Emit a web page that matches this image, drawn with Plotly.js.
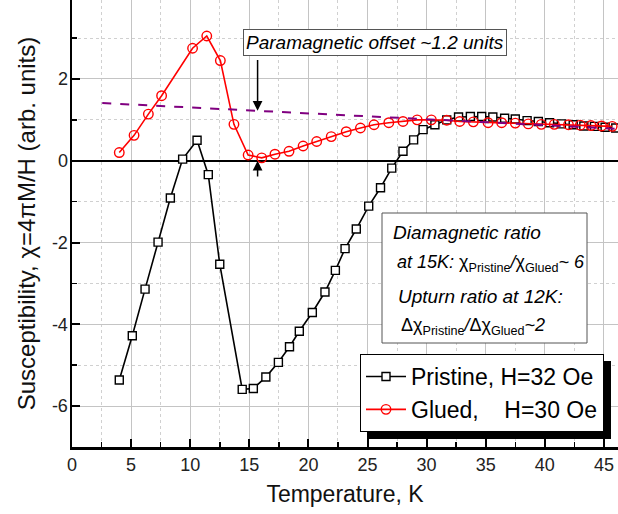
<!DOCTYPE html>
<html>
<head>
<meta charset="utf-8">
<script src="https://cdn.plot.ly/plotly-3.0.1.min.js"></script>
<style>
html,body{margin:0;padding:0;background:#fff;}
#chart{width:618px;height:514px;}
</style>
</head>
<body>
<div id="chart"></div>
<script>
// ---- data ----
const pristineT = [4.0, 5.1, 6.18, 7.28, 8.32, 9.36, 10.58, 11.53, 12.5, 14.4, 15.34, 16.4, 17.46, 18.4, 19.23, 20.33, 21.4, 22.28, 23.1, 24.05, 25.1, 26.1, 27.05, 28.0, 28.9, 29.7, 30.7, 31.7, 32.7, 33.7, 34.66, 35.6, 36.6, 37.5, 38.5, 39.45, 40.4, 41.4, 42.4, 43.3, 44.2, 45.1, 46.0];
const pristineChi = [-5.36, -4.28, -3.14, -1.99, -0.91, 0.04, 0.50, -0.34, -2.53, -5.59, -5.57, -5.29, -4.93, -4.55, -4.17, -3.71, -3.21, -2.68, -2.15, -1.67, -1.11, -0.66, -0.18, 0.23, 0.51, 0.76, 0.88, 1.00, 1.07, 1.08, 1.08, 1.07, 1.04, 1.02, 0.98, 0.96, 0.93, 0.90, 0.88, 0.85, 0.84, 0.82, 0.80];
const gluedT = [4.0, 5.25, 6.46, 7.58, 10.2, 11.4, 12.55, 13.7, 14.9, 16.05, 17.17, 18.36, 19.55, 20.7, 21.93, 23.2, 24.4, 25.55, 26.8, 28.0, 29.2, 30.4, 31.7, 32.8, 33.95, 35.2, 36.35, 37.5, 38.6, 39.7, 40.8, 42.0, 43.0, 43.9, 44.8, 45.7];
const gluedChi = [0.20, 0.62, 1.14, 1.59, 2.75, 3.05, 2.45, 0.89, 0.14, 0.07, 0.16, 0.23, 0.36, 0.47, 0.59, 0.71, 0.80, 0.88, 0.93, 0.96, 1.00, 1.00, 0.99, 0.96, 0.95, 0.93, 0.93, 0.92, 0.90, 0.89, 0.89, 0.88, 0.87, 0.86, 0.85, 0.84];
const offsetT = [2.56, 46.2];
const offsetChi = [1.41, 0.78];
const xTickVals = [0, 5, 10, 15, 20, 25, 30, 35, 40, 45];
const xTickText = ['0', '5', '10', '15', '20', '25', '30', '35', '40', '45'];
const yTickVals = [-6, -4, -2, 0, 2];
const yTickText = ['-6', '-4', '-2', '0', '2'];
const seriesNames = ['Pristine, H=32 Oe', 'Glued,\u00A0\u00A0\u00A0\u00A0H=30 Oe'];
const xTitle = 'Temperature, K';
const yTitle = 'Susceptibility, χ=4πM/H (arb. units)';
const offsetLabel = '<i>Paramagnetic offset ~1.2 units</i>';
const arrowT = 15.7;
const arrowTop = 2.5;
const arrowBottom = -0.42;
const ratioLines = [
  '<i>Diamagnetic ratio</i>',
  '<i>at 15K: </i>χ<sub>Pristine</sub><i>/</i>χ<sub>Glued</sub><i>~ 6</i>',
  '<i>Upturn ratio at 12K:</i>',
  'Δχ<sub>Pristine</sub><i>/</i>Δχ<sub>Glued</sub><i>~2</i>'
];

// ---- layout helpers (pixel -> data for text placement) ----
const FONT = 'Liberation Sans, Arial, sans-serif';
const L = 72, T = 0, W = 546, H = 447;
const xr = [0, 46.19], yr = [-7.0, 3.93];
const dx = px => xr[0] + (px - L) / W * (xr[1] - xr[0]);
const dy = py => yr[1] - (py - T) / H * (yr[1] - yr[0]);

const traces = [
  {x: pristineT, y: pristineChi, name: seriesNames[0], mode: 'lines+markers',
   line: {color: '#000', width: 1.6},
   marker: {symbol: 'square', size: 8, color: '#fff', line: {color: '#000', width: 1.4}}},
  {x: gluedT, y: gluedChi, name: seriesNames[1], mode: 'lines+markers',
   line: {color: '#ff0000', width: 1.6},
   marker: {symbol: 'circle', size: 9.5, color: 'rgba(255,255,255,0)', line: {color: '#ff0000', width: 1.4}}},
  {x: offsetT, y: offsetChi, mode: 'lines', showlegend: false, hoverinfo: 'skip',
   line: {color: '#800080', width: 2, dash: 'dash'}}
];

const lineX = [391, 395, 396, 399];
const lineY = [232, 263, 296, 326];
const lineSize = [19, 18, 19, 18];
const annotations = [
  {x: dx(374.5), y: dy(42.5), xref: 'x', yref: 'y', text: offsetLabel, showarrow: false,
   font: {family: FONT, size: 19, color: '#000'}, bgcolor: '#fff', bordercolor: '#555', borderwidth: 1, borderpad: 2},
  {x: arrowT, y: offsetChi[0] + (offsetChi[1] - offsetChi[0]) * (arrowT - offsetT[0]) / (offsetT[1] - offsetT[0]),
   ax: arrowT, ay: arrowTop, xref: 'x', yref: 'y', axref: 'x', ayref: 'y', text: '', showarrow: true,
   arrowhead: 2, arrowsize: 1.3, arrowwidth: 1.5, arrowcolor: '#000', standoff: 0, startstandoff: 0},
  {x: arrowT, y: 0, ax: arrowT, ay: arrowBottom, xref: 'x', yref: 'y', axref: 'x', ayref: 'y', text: '', showarrow: true,
   arrowhead: 2, arrowsize: 1.3, arrowwidth: 1.5, arrowcolor: '#000', standoff: 0, startstandoff: 0}
];
ratioLines.forEach((t, i) => annotations.push({
  x: dx(lineX[i]), y: dy(lineY[i]), xref: 'x', yref: 'y', xanchor: 'left', yanchor: 'middle',
  text: t, showarrow: false, font: {family: FONT, size: lineSize[i], color: '#000'}
}));

const shapes = [
  {type: 'rect', xref: 'x', yref: 'y', x0: dx(382), x1: dx(587), y0: dy(213), y1: dy(343),
   fillcolor: '#fff', line: {color: '#555', width: 1}, layer: 'above'}
];

const axisCommon = {
  showline: true, linecolor: '#000', linewidth: 2.5, mirror: false,
  ticks: 'inside', ticklen: 8, tickwidth: 2, tickcolor: '#000',
  showgrid: true, gridcolor: '#c4c4c4', gridwidth: 1,
  tickfont: {family: FONT, size: 18, color: '#222'},
  tickmode: 'array', fixedrange: true
};

const LEG_TOP = 354;
const layout = {
  width: 618, height: 514,
  margin: {l: L, r: 618 - L - W, t: T, b: 514 - T - H},
  paper_bgcolor: '#fff', plot_bgcolor: '#fff',
  font: {family: FONT, color: '#000'},
  showlegend: true,
  legend: {x: (360 - L) / W, y: 1 - (LEG_TOP - T) / H, xanchor: 'left', yanchor: 'top',
           bgcolor: '#fff', bordercolor: '#000', borderwidth: 1, itemwidth: 40,
           font: {family: FONT, size: 23, color: '#000'}, tracegroupgap: 0},
  xaxis: Object.assign({}, axisCommon, {
    range: xr, tickvals: xTickVals, ticktext: xTickText, zeroline: false,
    minor: {tickmode: 'linear', tick0: 0, dtick: 2.5, ticks: 'inside', ticklen: 5, tickwidth: 1.5, tickcolor: '#000',
            showgrid: true, gridcolor: '#d0d0d0', griddash: 'dot', gridwidth: 1},
    title: {text: xTitle, font: {family: FONT, size: 23, color: '#111'}, standoff: 12}
  }),
  yaxis: Object.assign({}, axisCommon, {
    range: yr, tickvals: yTickVals, ticktext: yTickText, ticklabelstandoff: -2,
    zeroline: true, zerolinecolor: '#000', zerolinewidth: 2,
    minor: {tickmode: 'linear', tick0: 0, dtick: 1, ticks: 'inside', ticklen: 5, tickwidth: 1.5, tickcolor: '#000',
            showgrid: true, gridcolor: '#d0d0d0', griddash: 'dot', gridwidth: 1},
    title: {text: '\u00A0\u00A0\u00A0\u00A0' + yTitle, font: {family: FONT, size: 24, color: '#111'}, standoff: 10}
  }),
  annotations: annotations,
  shapes: shapes
};

const gd = document.getElementById('chart');
Plotly.newPlot(gd, traces, layout, {staticPlot: true}).then(() => {
  // legend drop shadow, sized from the rendered legend
  const lg = gd._fullLayout.legend;
  const w = lg._width, h = lg._height;
  if (w && h) {
    const x0px = 360 + 7, y0px = LEG_TOP + 7;
    const sh = {type: 'rect', xref: 'paper', yref: 'paper',
      x0: (x0px - L) / W, x1: (x0px + w - L) / W,
      y0: 1 - (y0px + h - T) / H, y1: 1 - (y0px - T) / H,
      fillcolor: '#000', line: {width: 0}, layer: 'above'};
    Plotly.relayout(gd, {shapes: shapes.concat([sh])});
  }
});
</script>
</body>
</html>
